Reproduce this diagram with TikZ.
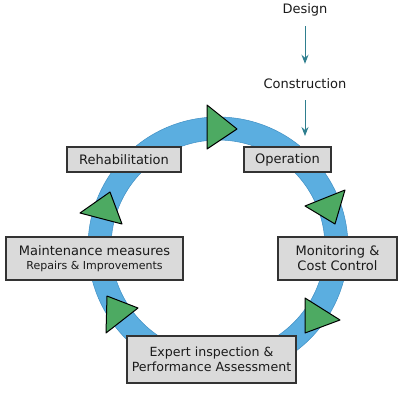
\documentclass[tikz,border=0pt]{standalone}
\usepackage{fontspec}
\setmainfont{DejaVu Sans}
\usetikzlibrary{arrows.meta}
\definecolor{ringblue}{HTML}{5BAEE0}
\definecolor{ringedge}{HTML}{3F8FC4}
\definecolor{trigreen}{HTML}{4DAA62}
\definecolor{boxgray}{HTML}{DADADA}
\definecolor{txt}{HTML}{1A1A1A}
\definecolor{teal}{HTML}{2F7F8F}
\tikzset{
  stagebox/.style={draw=black!80, line width=1.1pt, fill=boxgray, text=txt, font=\fontsize{13}{15}\selectfont, align=center, inner sep=0pt},
  tri/.style={draw=black, line width=1pt, fill=trigreen, line join=round},
  toplabel/.style={text=txt, font=\fontsize{13}{15}\selectfont, inner sep=1pt},
  flow/.style={teal, line width=0.9pt, -{Stealth[length=9pt,width=7pt,inset=3pt]}}
}
\begin{document}
\begin{tikzpicture}[x=1pt,y=-1pt]
\useasboundingbox (0,0) rectangle (400,400);
\fill[white] (0,0) rectangle (400,400);
% ring
\fill[ringblue, even odd rule] (218,247) circle[radius=130] (218,247) circle[radius=107];
\draw[ringedge, line width=0.5pt] (218,247) circle[radius=130] (218,247) circle[radius=107];
% triangles
\draw[tri] (207,105) -- (237,129) -- (207,149) -- cycle;
\draw[tri] (305,206) -- (345,190) -- (335,224) -- cycle;
\draw[tri] (305,298) -- (340,320) -- (305,333) -- cycle;
\draw[tri] (80,213) -- (110,192) -- (122,224) -- cycle;
\draw[tri] (107,296) -- (138,308) -- (106,333) -- cycle;
% boxes
\node[stagebox, minimum width=114pt, minimum height=25pt] (rehab) at (124,159.5) {Rehabilitation};
\node[stagebox, minimum width=87pt, minimum height=25pt] (oper) at (287.5,159.5) {Operation};
\node[stagebox, minimum width=177pt, minimum height=43pt] (maint) at (94.5,258.5) {Maintenance measures\\[-1pt]{\fontsize{11}{13}\selectfont Repairs \& Improvements}};
\node[stagebox, minimum width=119pt, minimum height=43pt] (monit) at (337.5,258.5) {Monitoring \&\\Cost Control};
\node[stagebox, minimum width=169pt, minimum height=47pt, font=\fontsize{12.6}{15}\selectfont] (expert) at (211.5,359.5) {Expert inspection \&\\Performance Assessment};
% top labels
\node[toplabel] (design) at (305,10) {Design};
\node[toplabel] (constr) at (305,84) {Construction};
\coordinate (opin) at (305,136);
\draw[flow, shorten <=9pt, shorten >=14pt] (design) -- (constr);
\draw[flow, shorten <=10pt] (constr) -- (opin);
\end{tikzpicture}
\end{document}
